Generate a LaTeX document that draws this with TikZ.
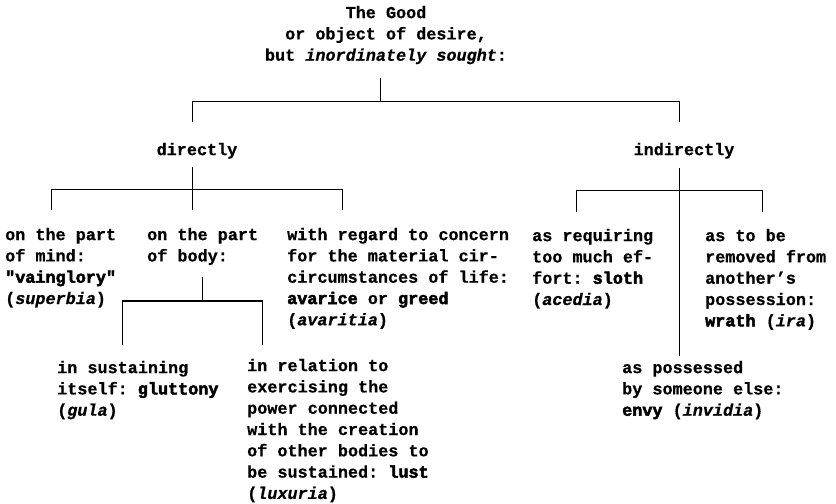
\documentclass[tikz,border=0pt]{standalone}
\usepackage{fontspec}
\setmainfont{Liberation Mono}[
  Ligatures=TeXOff,
  UprightFont=* Bold, ItalicFont=* Bold Italic,
  UprightFeatures={FakeBold=0.6}, ItalicFeatures={FakeBold=0.6}]
\newfontfamily\vicefont{Liberation Mono Bold}[Ligatures=TeXOff, FakeBold=3]
\frenchspacing
\newcommand{\vice}[1]{{\vicefont #1}}

\begin{document}
\begin{tikzpicture}[
  x=1bp, y=-1bp,
  txt/.style={anchor=north west, inner sep=0pt, align=left, font=\fontsize{16.8bp}{21.3bp}\selectfont},
  head/.style={txt, anchor=north, align=center},
  link/.style={line width=1bp}
]
\useasboundingbox (0,0) rectangle (836,504);

% Title and the two main branches.
\node[head] (Good) at (386,3) {\strut The Good\\or object of desire,\\but \textit{inordinately sought}:};
\node[head] (Direct) at (197,140) {\strut directly};
\node[head] (Indirect) at (684,140) {\strut indirectly};

% Directly: mind, body, material things.
\node[txt] (Mind) at (5,225) {\strut on the part\\of mind:\\\vice{"vainglory"}\\(\textit{superbia})};
\node[txt] (Body) at (147,225) {\strut on the part\\of body:};
\node[txt] (Material) at (287,225) {\strut with regard to concern\\for the material cir-\\circumstances of life:\\\vice{avarice} or \vice{greed}\\(\textit{avaritia})};

% Body splits in two.
\node[txt] (Gluttony) at (57,358) {\strut in sustaining\\itself: \vice{gluttony}\\(\textit{gula})};
\node[txt] (Lust) at (247,356) {\strut in relation to\\exercising the\\power connected\\with the creation\\of other bodies to\\be sustained: \vice{lust}\\(\textit{luxuria})};

% Indirectly: effort, removal, possession.
\node[txt] (Effort) at (532,226) {\strut as requiring\\too much ef-\\fort: \vice{sloth}\\(\textit{acedia})};
\node[txt] (Removed) at (705,226) {\strut as to be\\removed from\\another’s\\possession:\\\vice{wrath} (\textit{ira})};
\node[txt] (Envy) at (622,358) {\strut as possessed\\by someone else:\\\vice{envy} (\textit{invidia})};

% Bracket points.
\coordinate (RootTop) at (380,78);
\coordinate (RootBar) at (380,102);
\coordinate (DirTop) at (192,122);
\coordinate (IndTop) at (679,122);
\coordinate (DirDown) at (192,167);
\coordinate (DirBar) at (192,190);
\coordinate (MindTop) at (51,210);
\coordinate (BodyTop) at (192,210);
\coordinate (MatTop) at (342,210);
\coordinate (IndDown) at (679,168);
\coordinate (IndBar) at (679,191);
\coordinate (EffortTop) at (576,212);
\coordinate (RemTop) at (762,212);
\coordinate (EnvyTop) at (679,356);
\coordinate (BodyDown) at (202,277);
\coordinate (BodyBar) at (202,301);
\coordinate (GulaTop) at (122,345);
\coordinate (LustTop) at (262,345);

% Connectors.
\draw[link] (RootTop) -- (RootBar);
\draw[link] (DirTop) -- (DirTop |- RootBar) -- (IndTop |- RootBar) -- (IndTop);
\draw[link] (DirDown) -- (DirBar);
\draw[link] (MindTop) -- (MindTop |- DirBar) -- (MatTop |- DirBar) -- (MatTop);
\draw[link] (DirBar) -- (BodyTop);
\draw[link] (IndDown) -- (EnvyTop);
\draw[link] (EffortTop) -- (EffortTop |- IndBar) -- (RemTop |- IndBar) -- (RemTop);
\draw[link] (BodyDown) -- (BodyBar);
\draw[link] (GulaTop) -- (GulaTop |- BodyBar) -- (LustTop |- BodyBar) -- (LustTop);

\end{tikzpicture}
\end{document}
